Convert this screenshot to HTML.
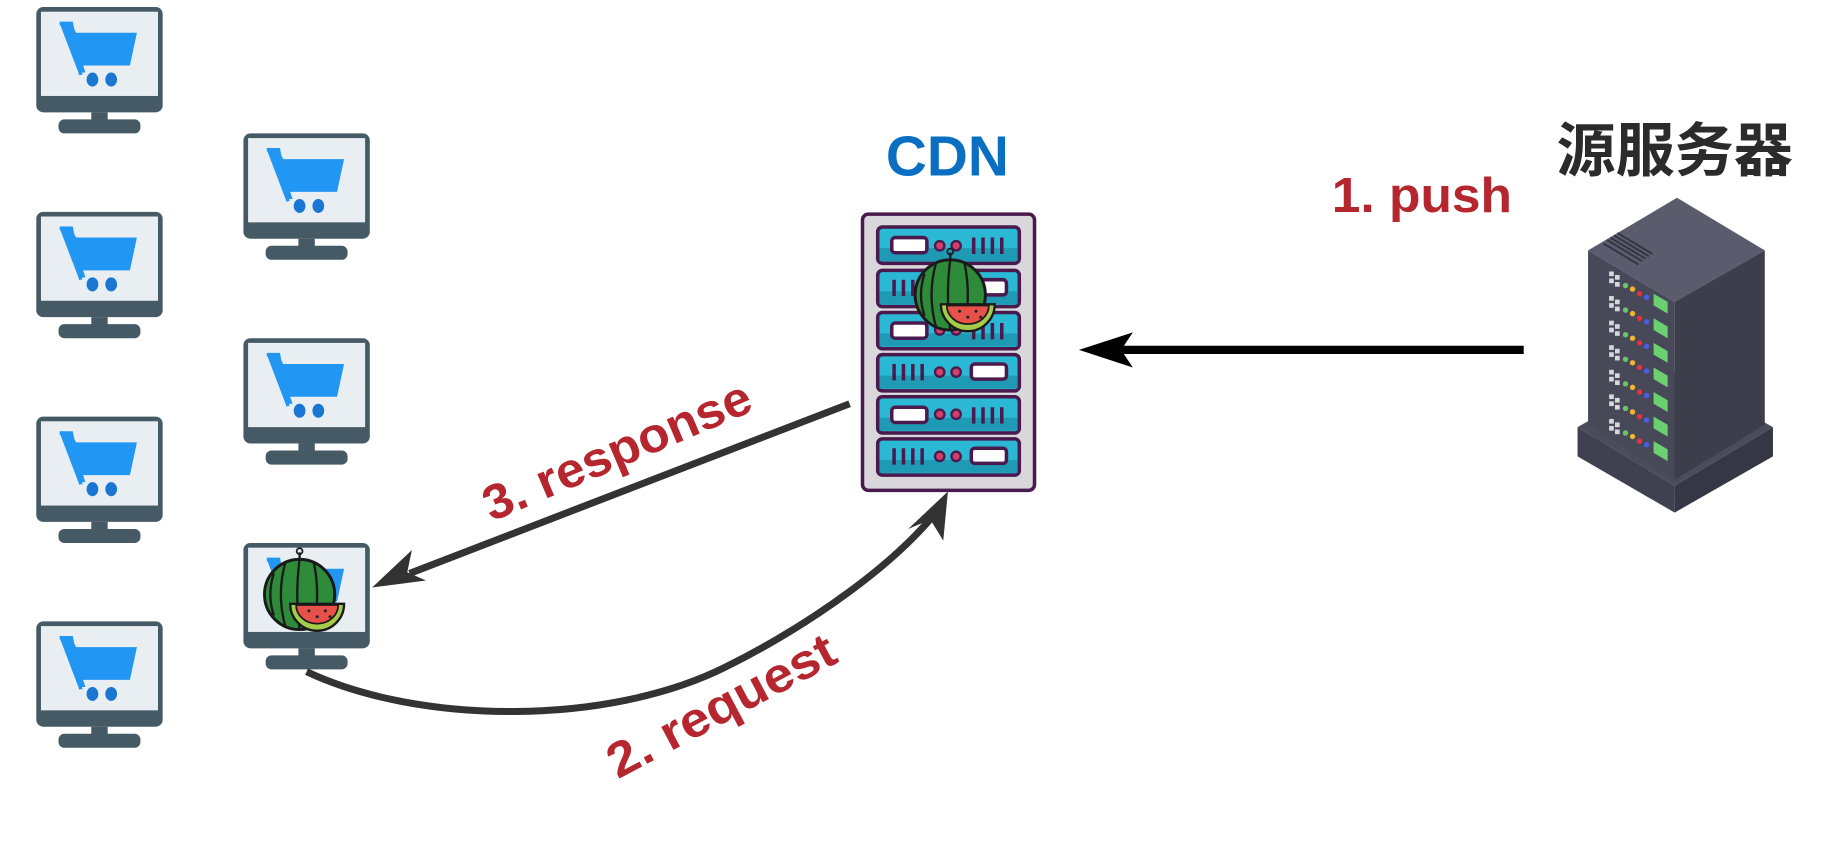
<!DOCTYPE html>
<html><head><meta charset="utf-8"><style>
html,body{margin:0;padding:0;background:#fff;width:1835px;height:842px;overflow:hidden}
svg{display:block}
text{font-family:"Liberation Sans","Noto Sans CJK SC",sans-serif;font-weight:bold}
</style></head><body>
<svg width="1835" height="842" viewBox="0 0 1568 719.5" preserveAspectRatio="none" xmlns="http://www.w3.org/2000/svg">
<defs>
<g id="mon">
  <rect x="0" y="0" width="108" height="90" rx="6" fill="#455a64"/>
  <rect x="4" y="4" width="100" height="72" fill="#e8eef1"/>
  <rect x="47" y="90" width="14" height="8" fill="#455a64"/>
  <rect x="19" y="96" width="70" height="12" rx="5" fill="#455a64"/>
  <path d="M20 14 L30 14 L34 22 L86 22 L80 50 L40 50 L42 56 L36 56 Z" fill="#2196f3"/>
  <path d="M20 14 L30 14 L38 58" stroke="#2196f3" stroke-width="3" fill="none"/>
  <ellipse cx="48" cy="62" rx="5" ry="6" fill="#1976d2"/>
  <ellipse cx="64" cy="62" rx="5" ry="6" fill="#1976d2"/>
</g>
<g id="melon">
  <circle cx="0" cy="0" r="30" fill="#2e8b3a" stroke="#1a1a1a" stroke-width="2.5"/>
  <path d="M-12 -28 Q-20 0 -12 28 M0 -30 Q-4 0 0 30 M12 -28 Q18 0 12 28 M-22 -18 Q-28 0 -22 18" stroke="#1a1a1a" stroke-width="2" fill="none"/>
  <path d="M0 -30 L0 -36" stroke="#1a1a1a" stroke-width="2"/>
  <circle cx="0" cy="-37" r="2.5" fill="none" stroke="#1a1a1a" stroke-width="1.5"/>
  <path d="M-8 8 L38 8 A23 23 0 0 1 -8 8 Z" fill="#a4cc4a" stroke="#1a1a1a" stroke-width="2"/>
  <path d="M-3 9 L33 9 A18 16 0 0 1 -3 9 Z" fill="#e8504a" stroke="#1a1a1a" stroke-width="1.5"/>
  <circle cx="8" cy="14" r="1.3" fill="#222"/><circle cx="15" cy="19" r="1.3" fill="#222"/><circle cx="22" cy="14" r="1.3" fill="#222"/><circle cx="26" cy="19" r="1.3" fill="#222"/>
</g>
<g id="slot">
  <rect x="0" y="0" width="121" height="31" rx="4" fill="#2ab8d4" stroke="#4a1a4f" stroke-width="3"/>
  <rect x="1.5" y="18" width="118" height="11" fill="#1f9ab5"/>
</g>
</defs>

<use href="#mon" x="31" y="6"/>
<use href="#mon" x="31" y="181"/>
<use href="#mon" x="31" y="356"/>
<use href="#mon" x="31" y="531"/>
<use href="#mon" x="208" y="114"/>
<use href="#mon" x="208" y="289"/>
<use href="#mon" x="208" y="464"/>

<!-- CDN server -->
<rect x="737" y="183" width="147" height="236" rx="5" fill="#d9d7db" stroke="#4a1a4f" stroke-width="3"/>
<g>
  <use href="#slot" x="750" y="194"/>
  <use href="#slot" x="750" y="231"/>
  <use href="#slot" x="750" y="267"/>
  <use href="#slot" x="750" y="303"/>
  <use href="#slot" x="750" y="339"/>
  <use href="#slot" x="750" y="375"/>
</g>
<g fill="#fff" stroke="#4a1a4f" stroke-width="3">
  <rect x="762" y="203" width="30" height="13" rx="3"/>
  <rect x="762" y="276" width="30" height="13" rx="3"/>
  <rect x="762" y="348" width="30" height="13" rx="3"/>
  <rect x="830" y="239" width="30" height="13" rx="3"/>
  <rect x="830" y="311" width="30" height="13" rx="3"/>
  <rect x="830" y="383" width="30" height="13" rx="3"/>
</g>
<g fill="#d0406a" stroke="#4a1a4f" stroke-width="2">
  <circle cx="803" cy="210" r="4"/><circle cx="817" cy="210" r="4"/>
  <circle cx="803" cy="282" r="4"/><circle cx="817" cy="282" r="4"/>
  <circle cx="803" cy="354" r="4"/><circle cx="817" cy="354" r="4"/>
  <circle cx="803" cy="318" r="4"/><circle cx="817" cy="318" r="4"/>
  <circle cx="803" cy="246" r="4"/><circle cx="817" cy="246" r="4"/>
  <circle cx="803" cy="390" r="4"/><circle cx="817" cy="390" r="4"/>
</g>
<g stroke="#4a1a4f" stroke-width="3">
  <path d="M832 203v14M840 203v14M848 203v14M856 203v14"/>
  <path d="M832 276v14M840 276v14M848 276v14M856 276v14"/>
  <path d="M832 348v14M840 348v14M848 348v14M856 348v14"/>
  <path d="M764 239v14M772 239v14M780 239v14M788 239v14"/>
  <path d="M764 311v14M772 311v14M780 311v14M788 311v14"/>
  <path d="M764 383v14M772 383v14M780 383v14M788 383v14"/>
</g>
<use href="#melon" x="812" y="252"/>
<use href="#melon" x="256" y="508"/>

<text x="757" y="150" font-size="48" fill="#0a6fc2" textLength="105" lengthAdjust="spacingAndGlyphs">CDN</text>
<text x="1330" y="146" font-size="50" fill="#2b2b2b" textLength="202" lengthAdjust="spacingAndGlyphs">源服务器</text>
<text x="1138" y="181" font-size="42" fill="#b5262e" textLength="154" lengthAdjust="spacingAndGlyphs">1. push</text>

<!-- push arrow -->
<line x1="1302" y1="299" x2="950" y2="299" stroke="#000" stroke-width="7"/>
<polygon points="922,299 968,284 958,299 968,314" fill="#000"/>

<!-- response arrow -->
<line x1="726" y1="345" x2="350" y2="490" stroke="#333" stroke-width="6"/>
<polygon points="318,502 352,470 348,489 364,496" fill="#333"/>
<text transform="translate(420,446) rotate(-23)" font-size="42" fill="#b5262e" textLength="245" lengthAdjust="spacingAndGlyphs">3. response</text>

<!-- request arrow -->
<path d="M262 574 C360 620 520 620 620 570 C700 530 765 480 798 440" stroke="#333" stroke-width="6" fill="none"/>
<polygon points="810,420 806,462 795,444 776,452" fill="#333"/>
<text transform="translate(528,666) rotate(-28)" font-size="42" fill="#b5262e" textLength="215" lengthAdjust="spacingAndGlyphs">2. request</text>

<!-- source server -->
<polygon points="1348,365 1431,415 1431,438 1348,390" fill="#3f4150"/>
<polygon points="1431,415 1515,365 1515,390 1431,438" fill="#353744"/>
<polygon points="1348,365 1431,318 1515,365 1431,415" fill="#4a4c5c"/>
<polygon points="1357,214 1433,169 1508,214 1431,258" fill="#5a5c6e"/>
<polygon points="1357,214 1431,258 1431,410 1357,363" fill="#474959"/>
<polygon points="1431,258 1508,214 1508,363 1431,410" fill="#3c3e4c"/>
<path d="M1370 208 L1400 226 M1373 205 L1403 223 M1376 203 L1406 221 M1379 201 L1409 219 M1382 199 L1412 217" stroke="#30323e" stroke-width="1.5"/>
<g id="row">
  <rect x="1375" y="232" width="4" height="4" fill="#d8d8dc"/><rect x="1380" y="235" width="4" height="4" fill="#d8d8dc"/>
  <rect x="1375" y="238" width="4" height="4" fill="#d8d8dc"/><rect x="1380" y="241" width="4" height="4" fill="#d8d8dc"/>
  <circle cx="1389" cy="244" r="2.3" fill="#6cc46a"/>
  <circle cx="1395" cy="247" r="2.3" fill="#f2b530"/>
  <circle cx="1401" cy="251" r="2.3" fill="#e8303a"/>
  <circle cx="1407" cy="254" r="2.3" fill="#4a5ee0"/>
  <polygon points="1413,251 1425,258 1425,268 1413,261" fill="#6cd070"/>
</g>
<use href="#row" y="21"/><use href="#row" y="42"/><use href="#row" y="63"/><use href="#row" y="84"/><use href="#row" y="105"/><use href="#row" y="126"/>
</svg>
</body></html>
